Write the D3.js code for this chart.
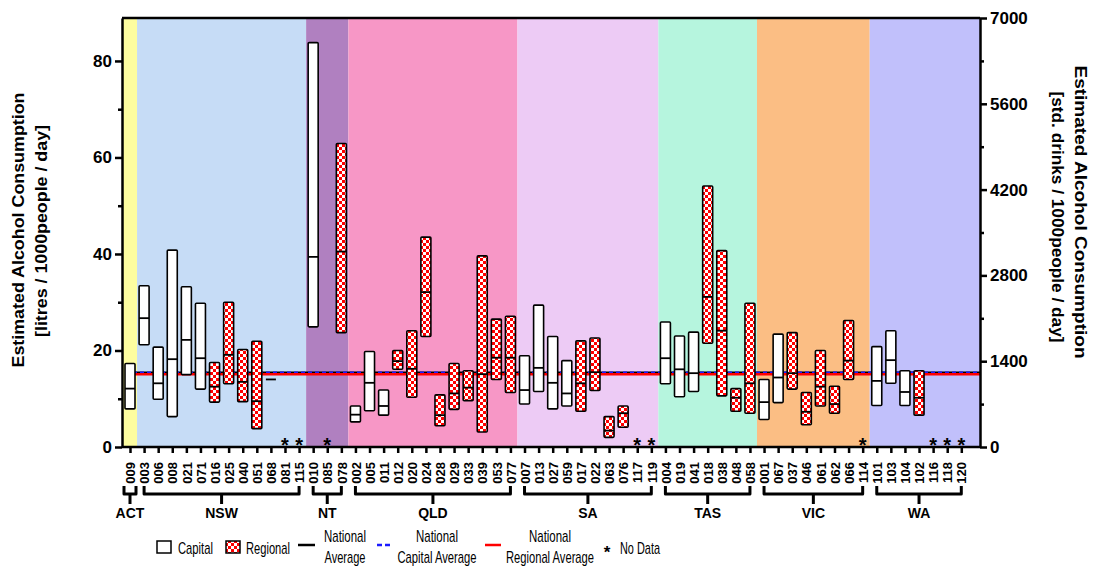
<!DOCTYPE html>
<html lang="en">
<head>
<meta charset="utf-8">
<title>Estimated Alcohol Consumption</title>
<script src="https://cdnjs.cloudflare.com/ajax/libs/d3/7.8.5/d3.min.js"></script>
<style type="text/css">
  body { margin: 0; background-color: #fff; }
  svg text { font-family: Arial, "Liberation Sans", sans-serif; }
  .axis path, .axis line { stroke: #000; stroke-width: 2.5px; }
  .axis text { font-weight: bold; fill: #000; }
</style>
</head>
<body>
<script type="text/javascript">

// site codes along the x axis
var sites = ["009",
  "003","006","008","021","071","016","025","040","051","068","081","115",
  "010","085","078",
  "002","005","011","012","020","024","028","029","033","039","053","077",
  "007","013","027","059","017","022","063","076","117","119",
  "004","019","041","018","038","048","058",
  "001","067","037","046","061","062","066","114",
  "101","103","104","102","116","118","120"];

// state of each site
var states = ["ACT",
  "NSW","NSW","NSW","NSW","NSW","NSW","NSW","NSW","NSW","NSW","NSW","NSW",
  "NT","NT","NT",
  "QLD","QLD","QLD","QLD","QLD","QLD","QLD","QLD","QLD","QLD","QLD","QLD",
  "SA","SA","SA","SA","SA","SA","SA","SA","SA","SA",
  "TAS","TAS","TAS","TAS","TAS","TAS","TAS",
  "VIC","VIC","VIC","VIC","VIC","VIC","VIC","VIC",
  "WA","WA","WA","WA","WA","WA","WA"];

// C = capital, R = regional, N = no data
var kinds = ["C",
  "C","C","C","C","C","R","R","R","R","C","N","N",
  "C","N","R",
  "C","C","C","R","R","R","R","R","R","R","R","R",
  "C","C","C","C","R","R","R","R","N","N",
  "C","C","C","R","R","R","R",
  "C","C","R","R","R","R","R","N",
  "C","C","C","R","N","N","N"];

// litres / 1000 people / day : low, median, high
var lows = [7.9,
  21.2,9.9,6.3,15.0,12.0,9.3,13.1,9.4,3.8,14.0,null,null,
  24.9,null,23.7,
  5.2,7.5,6.6,16.1,10.3,22.9,4.4,7.8,9.6,3.1,14.0,11.3,
  8.9,11.5,7.9,8.5,7.4,11.7,2.0,4.1,null,null,
  13.1,10.4,11.5,21.5,10.6,7.4,7.0,
  5.7,9.2,12.0,4.6,8.5,7.0,14.0,null,
  8.6,13.2,8.6,6.6,null,null,null];

var medians = [12.1,
  26.7,13.2,18.2,22.2,18.4,12.5,19.1,13.5,9.5,14.0,null,null,
  39.4,null,40.5,
  6.7,13.3,8.5,17.8,16.2,32.1,6.6,11.1,12.3,15.1,18.5,18.5,
  11.8,16.4,13.3,11.1,13.2,15.5,3.4,7.0,null,null,
  18.4,16.1,15.3,31.1,24.1,10.2,13.2,
  9.3,14.4,15.3,7.3,12.5,8.9,17.9,null,
  13.7,18.0,11.4,10.2,null,null,null];

var highs = [17.3,
  33.4,20.7,40.8,33.2,29.8,17.5,30.0,20.2,21.9,14.0,null,null,
  83.8,null,62.9,
  8.5,19.8,11.8,20.0,24.1,43.5,10.8,17.3,15.8,39.6,26.5,27.1,
  18.9,29.4,22.9,17.9,22.0,22.6,6.3,8.5,null,null,
  25.9,23.0,23.8,54.1,40.7,12.1,29.8,
  14.0,23.4,23.7,11.3,20.0,12.6,26.2,null,
  20.8,24.1,15.8,15.8,null,null,null];

// national averages (litres)
var nationalAvg = 15.5;
var nationalCapitalAvg = 15.5;
var nationalRegionalAvg = 15.1;

// state order and band colours
var stateNames = ["ACT","NSW","NT","QLD","SA","TAS","VIC","WA"];
var stateColors = ["#fdfda0","#c6dcf6","#b080c0","#f797c6","#edcbf5","#b6f5de","#fbbe84","#c1c0fb"];

// tick labels
var leftTicks = [0, 20, 40, 60, 80];
var leftMinor = [10, 30, 50, 70];
var rightTicks = [0, 1400, 2800, 4200, 5600, 7000];
var rightMinor = [700, 2100, 3500, 4900, 6300];

var w = 1094, h = 567;
var pL = 122, pR = 980, pT = 18, pB = 447;
var drinksPerLitre = 78.74;

var svg = d3.select("body").append("svg")
  .attr("width", w)
  .attr("height", h);

// checker pattern for regional bars
var defs = svg.append("defs");
var pat = defs.append("pattern")
  .attr("id", "checker")
  .attr("patternUnits", "userSpaceOnUse")
  .attr("width", 6).attr("height", 6);
pat.append("rect").attr("width", 6).attr("height", 6).attr("fill", "#fff");
pat.append("rect").attr("width", 3).attr("height", 3).attr("fill", "#ff0000")
  .attr("shape-rendering", "crispEdges");
pat.append("rect").attr("x", 3).attr("y", 3).attr("width", 3).attr("height", 3).attr("fill", "#ff0000")
  .attr("shape-rendering", "crispEdges");

// scales
var x = d3.scalePoint()
  .domain(sites)
  .range([130, 961.3]);
var step = x.step();

var yL = d3.scaleLinear()
  .domain([0, 7000 / drinksPerLitre])
  .range([pB, pT]);

var yR = d3.scaleLinear()
  .domain([0, 7000])
  .range([pB, pT]);

var stateColor = d3.scaleOrdinal()
  .domain(stateNames)
  .range(stateColors);

// rows built from the arrays
var rows = sites.map(function(s, i) {
  return { site: s, state: states[i], kind: kinds[i], lo: lows[i], med: medians[i], hi: highs[i] };
});

// state background bands
var groups = stateNames.map(function(st) {
  var members = rows.filter(function(r) { return r.state == st; });
  return { state: st, first: members[0].site, last: members[members.length - 1].site };
});

function bandStart(d, i) { return i == 0 ? pL : x(d.first) - step / 2; }
function bandEnd(d, i) { return i == groups.length - 1 ? pR : x(d.last) + step / 2; }

svg.append("g").selectAll("rect")
  .data(groups)
  .enter()
  .append("rect")
  .attr("x", bandStart)
  .attr("width", function(d, i) { return bandEnd(d, i) - bandStart(d, i); })
  .attr("y", pT)
  .attr("height", pB - pT)
  .attr("fill", function(d) { return stateColor(d.state); });

// national average lines
svg.append("line")
  .attr("x1", pL + 4).attr("x2", pR)
  .attr("y1", yL(nationalAvg)).attr("y2", yL(nationalAvg))
  .attr("stroke", "#000").attr("stroke-width", 1.5);
svg.append("line")
  .attr("x1", pL + 4).attr("x2", pR)
  .attr("y1", yL(nationalCapitalAvg)).attr("y2", yL(nationalCapitalAvg))
  .attr("stroke", "#1c1cff").attr("stroke-width", 1.5)
  .attr("stroke-dasharray", "4,3");
svg.append("line")
  .attr("x1", pL + 4).attr("x2", pR)
  .attr("y1", yL(nationalRegionalAvg)).attr("y2", yL(nationalRegionalAvg))
  .attr("stroke", "#ff0000").attr("stroke-width", 2.5);

// floating bars
var barW = 10;
var withData = rows.filter(function(r) { return r.kind != "N"; });

svg.append("g").selectAll("rect")
  .data(withData)
  .enter()
  .append("rect")
  .attr("x", function(d) { return x(d.site) - barW / 2; })
  .attr("y", function(d) { return yL(d.hi); })
  .attr("width", barW)
  .attr("height", function(d) { return yL(d.lo) - yL(d.hi); })
  .attr("rx", 1)
  .attr("fill", function(d) { return d.kind == "R" ? "url(#checker)" : "#fff"; })
  .attr("stroke", "#000")
  .attr("stroke-width", 1.6);

svg.append("g").selectAll("line")
  .data(withData)
  .enter()
  .append("line")
  .attr("x1", function(d) { return x(d.site) - barW / 2; })
  .attr("x2", function(d) { return x(d.site) + barW / 2; })
  .attr("y1", function(d) { return yL(d.med); })
  .attr("y2", function(d) { return yL(d.med); })
  .attr("stroke", "#000")
  .attr("stroke-width", 1.8);

// no data markers
svg.append("g").selectAll("text")
  .data(rows.filter(function(r) { return r.kind == "N"; }))
  .enter()
  .append("text")
  .attr("x", function(d) { return x(d.site); })
  .attr("y", pB + 5)
  .attr("text-anchor", "middle")
  .style("font-size", "20px")
  .style("font-weight", "bold")
  .text("*");

// frame top
svg.append("line")
  .attr("x1", pL).attr("x2", pR)
  .attr("y1", pT).attr("y2", pT)
  .attr("stroke", "#000").attr("stroke-width", 2.5);

// left axis
var gL = svg.append("g").attr("class", "axis")
  .attr("transform", "translate(" + pL + ",0)")
  .call(d3.axisLeft(yL).tickValues(leftTicks).tickSize(7).tickSizeOuter(0).tickPadding(3).tickFormat(d3.format("d")));
gL.selectAll("text").style("font-size", "17px");
svg.append("g").attr("class", "axis")
  .attr("transform", "translate(" + pL + ",0)")
  .call(d3.axisLeft(yL).tickValues(leftMinor).tickSize(4).tickSizeOuter(0).tickFormat(""))
  .select(".domain").remove();

// right axis
var gR = svg.append("g").attr("class", "axis")
  .attr("transform", "translate(" + pR + ",0)")
  .call(d3.axisRight(yR).tickValues(rightTicks).tickSize(7).tickSizeOuter(0).tickPadding(3).tickFormat(d3.format("d")));
gR.selectAll("text").style("font-size", "17px");
svg.append("g").attr("class", "axis")
  .attr("transform", "translate(" + pR + ",0)")
  .call(d3.axisRight(yR).tickValues(rightMinor).tickSize(4).tickSizeOuter(0).tickFormat(""))
  .select(".domain").remove();

// bottom axis with rotated site codes
var gB = svg.append("g").attr("class", "axis")
  .attr("transform", "translate(0," + pB + ")")
  .call(d3.axisBottom(x).tickSize(6).tickSizeOuter(0));
gB.select(".domain").attr("d", "M" + pL + ",0H" + pR);
gB.selectAll("text")
  .attr("transform", "rotate(-90)")
  .attr("text-anchor", "end")
  .attr("x", -15)
  .attr("y", 0)
  .attr("dy", "0.36em")
  .style("font-size", "13px");

// state brackets
var brTop = 486, brMid = 494, brStem = 504;
var br = svg.append("g").selectAll("g")
  .data(groups)
  .enter()
  .append("g");

br.append("path")
  .attr("d", function(d) {
    var x0 = x(d.first), x1 = x(d.last);
    if (d.first == d.last) { x0 -= 6; x1 += 6; }
    var xc = (x0 + x1) / 2;
    return "M" + x0 + "," + brTop + "V" + brMid + "H" + x1 + "V" + brTop +
      "M" + xc + "," + brMid + "V" + brStem;
  })
  .attr("fill", "none")
  .attr("stroke", "#000")
  .attr("stroke-width", 3)
  .attr("stroke-linejoin", "round");

br.append("text")
  .attr("x", function(d) { return (x(d.first) + x(d.last)) / 2; })
  .attr("y", 518)
  .attr("text-anchor", "middle")
  .style("font-size", "14px")
  .style("font-weight", "bold")
  .text(function(d) { return d.state; });

// axis titles
svg.append("text")
  .attr("transform", "translate(24,230) rotate(-90)")
  .attr("text-anchor", "middle")
  .attr("textLength", 275).attr("lengthAdjust", "spacingAndGlyphs")
  .style("font-size", "16px").style("font-weight", "bold")
  .text("Estimated Alcohol Consumption");
svg.append("text")
  .attr("transform", "translate(47,231) rotate(-90)")
  .attr("text-anchor", "middle")
  .attr("textLength", 212).attr("lengthAdjust", "spacingAndGlyphs")
  .style("font-size", "16px").style("font-weight", "bold")
  .text("[litres / 1000people / day]");

svg.append("text")
  .attr("transform", "translate(1075,212) rotate(90)")
  .attr("text-anchor", "middle")
  .attr("textLength", 293).attr("lengthAdjust", "spacingAndGlyphs")
  .style("font-size", "16px").style("font-weight", "bold")
  .text("Estimated Alcohol Consumption");
svg.append("text")
  .attr("transform", "translate(1052,217) rotate(90)")
  .attr("text-anchor", "middle")
  .attr("textLength", 251).attr("lengthAdjust", "spacingAndGlyphs")
  .style("font-size", "16px").style("font-weight", "bold")
  .text("[std. drinks / 1000people / day]");

// legend
var lg = svg.append("g").style("font-size", "17px");
lg.append("rect").attr("x", 157).attr("y", 541).attr("width", 14).attr("height", 12)
  .attr("fill", "#fff").attr("stroke", "#000").attr("stroke-width", 1.5);
lg.append("text").attr("x", 178).attr("y", 554)
  .attr("textLength", 35).attr("lengthAdjust", "spacingAndGlyphs").text("Capital");

lg.append("rect").attr("x", 226).attr("y", 541).attr("width", 14).attr("height", 12)
  .attr("fill", "url(#checker)").attr("stroke", "#000").attr("stroke-width", 1.5);
lg.append("text").attr("x", 246).attr("y", 554)
  .attr("textLength", 44).attr("lengthAdjust", "spacingAndGlyphs").text("Regional");

lg.append("line").attr("x1", 298).attr("x2", 315).attr("y1", 545).attr("y2", 545)
  .attr("stroke", "#000").attr("stroke-width", 2.5);
lg.append("text").attr("x", 345).attr("y", 542).attr("text-anchor", "middle")
  .attr("textLength", 42).attr("lengthAdjust", "spacingAndGlyphs").text("National");
lg.append("text").attr("x", 345).attr("y", 563).attr("text-anchor", "middle")
  .attr("textLength", 41).attr("lengthAdjust", "spacingAndGlyphs").text("Average");

lg.append("line").attr("x1", 377).attr("x2", 392).attr("y1", 545).attr("y2", 545)
  .attr("stroke", "#1c1cff").attr("stroke-width", 2.5).attr("stroke-dasharray", "5,3");
lg.append("text").attr("x", 437).attr("y", 542).attr("text-anchor", "middle")
  .attr("textLength", 42).attr("lengthAdjust", "spacingAndGlyphs").text("National");
lg.append("text").attr("x", 437).attr("y", 563).attr("text-anchor", "middle")
  .attr("textLength", 79).attr("lengthAdjust", "spacingAndGlyphs").text("Capital Average");

lg.append("line").attr("x1", 485).attr("x2", 501).attr("y1", 545).attr("y2", 545)
  .attr("stroke", "#ff0000").attr("stroke-width", 2.5);
lg.append("text").attr("x", 550).attr("y", 542).attr("text-anchor", "middle")
  .attr("textLength", 42).attr("lengthAdjust", "spacingAndGlyphs").text("National");
lg.append("text").attr("x", 550).attr("y", 563).attr("text-anchor", "middle")
  .attr("textLength", 88).attr("lengthAdjust", "spacingAndGlyphs").text("Regional Average");

lg.append("text").attr("x", 607).attr("y", 558).attr("text-anchor", "middle")
  .style("font-weight", "bold").text("*");
lg.append("text").attr("x", 620).attr("y", 554)
  .attr("textLength", 40).attr("lengthAdjust", "spacingAndGlyphs").text("No Data");

</script>
</body>
</html>
